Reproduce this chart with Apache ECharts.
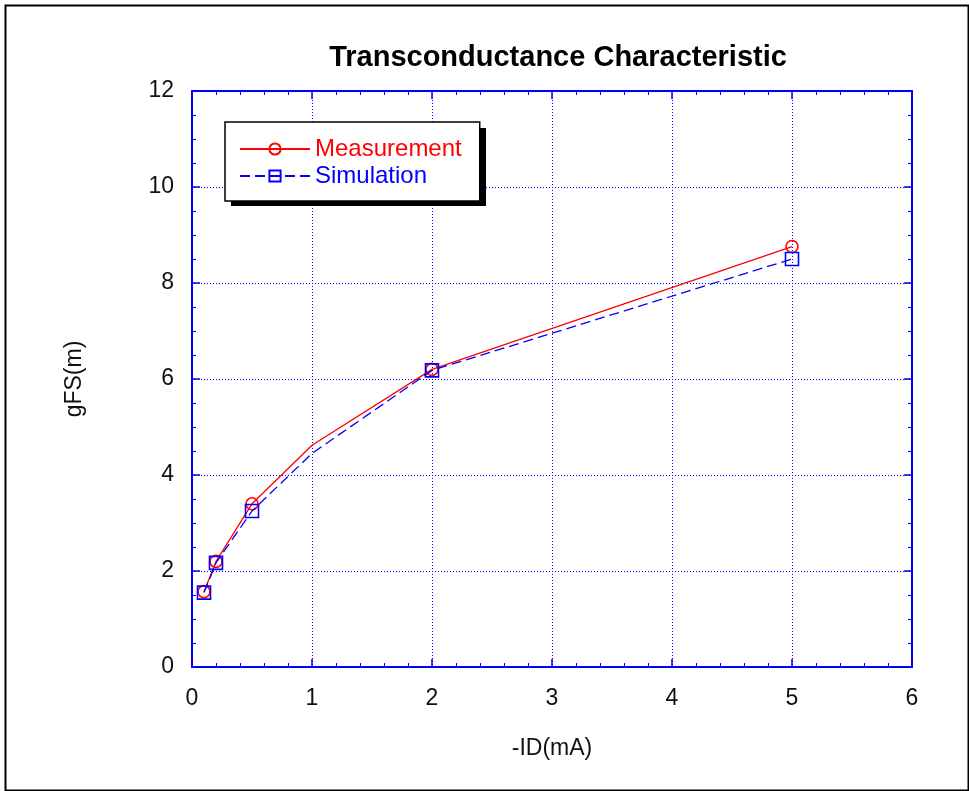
<!DOCTYPE html>
<html>
<head>
<meta charset="utf-8">
<script src="https://cdn.jsdelivr.net/npm/echarts@6/dist/echarts.min.js"></script>
<style>
  html, body { margin: 0; padding: 0; background: #fff; }
  #chart { width: 969px; height: 791px; }
</style>
</head>
<body>
<div id="chart"></div>
<script>
// -ID(mA) drain currents
var currents = [0.1, 0.2, 0.5, 1, 2, 5];
// gFS(m)
var measurement = [1.57, 2.2, 3.4, 4.62, 6.2, 8.76];
var simulation = [1.55, 2.17, 3.25, 4.45, 6.18, 8.5];
// points that carry no marker in the plot
var noMarker = [3];

var xTicks = [0, 1, 2, 3, 4, 5, 6];
var yTicks = [0, 2, 4, 6, 8, 10, 12];

var blue = '#0000ff';
var font = '"Liberation Sans", Arial, sans-serif';

function toPoints(ys) {
    return currents.map(function (x, i) {
        var p = { value: [x, ys[i]] };
        if (noMarker.indexOf(i) >= 0) p.symbol = 'none';
        return p;
    });
}

function axisBase(extra) {
    var a = {
        type: 'value',
        axisLine: { show: true, onZero: false, lineStyle: { color: blue, width: 2 } },
        axisTick: { show: true, inside: true, length: 8, lineStyle: { color: blue, width: 1.5 } },
        splitLine: { show: false },
        axisLabel: { show: false }
    };
    return Object.assign(a, extra);
}

var chart = echarts.init(document.getElementById('chart'));
chart.setOption({
    backgroundColor: '#fff',
    animation: false,
    title: {
        text: 'Transconductance Characteristic',
        left: 553, top: 38, textAlign: 'center',
        textStyle: { fontFamily: font, fontSize: 29, fontWeight: 'bold', color: '#000' }
    },
    graphic: [
        {
            type: 'rect', left: 3, top: 3,
            shape: { width: 963, height: 785 },
            style: { fill: 'none', stroke: '#000', lineWidth: 2 }
        },
        // drop shadow behind the legend box
        {
            type: 'rect', left: 231, top: 128, z: 3,
            shape: { width: 255, height: 78 },
            style: { fill: '#000' }
        }
    ],
    legend: {
        orient: 'vertical',
        left: 225, top: 122, z: 5,
        padding: [15, 18, 13, 14],
        itemWidth: 70, itemHeight: 14, itemGap: 3,
        backgroundColor: '#fff',
        borderColor: '#000', borderWidth: 1.5,
        textStyle: { fontFamily: font, fontSize: 24 },
        data: [
            { name: 'Measurement', textStyle: { color: '#ff0000' } },
            { name: 'Simulation', textStyle: { color: blue } }
        ]
    },
    grid: { left: 192, top: 91, width: 720, height: 576 },
    xAxis: [
        axisBase({
            min: 0, max: 6, interval: 1, position: 'bottom',
            minorTick: { show: true, splitNumber: 5, length: 4, lineStyle: { color: blue, width: 1 } },
            splitLine: { show: true, lineStyle: { color: blue, type: [1, 2], width: 1 } },
            axisLabel: {
                show: true, margin: 20, color: '#111', fontFamily: font, fontSize: 23,
                formatter: function (v) { return xTicks.indexOf(v) >= 0 ? String(v) : ''; }
            },
            name: '-ID(mA)', nameLocation: 'middle', nameGap: 70,
            nameTextStyle: { color: '#111', fontFamily: font, fontSize: 23 }
        }),
        axisBase({
            min: 0, max: 6, interval: 1, position: 'top',
            minorTick: { show: true, splitNumber: 5, length: 4, lineStyle: { color: blue, width: 1 } }
        })
    ],
    yAxis: [
        axisBase({
            min: 0, max: 12, interval: 2, position: 'left',
            minorTick: { show: true, splitNumber: 4, length: 4, lineStyle: { color: blue, width: 1 } },
            splitLine: { show: true, lineStyle: { color: blue, type: [1, 2], width: 1 } },
            axisLabel: {
                show: true, margin: 18, color: '#111', fontFamily: font, fontSize: 23,
                formatter: function (v) { return yTicks.indexOf(v) >= 0 ? String(v) : ''; }
            },
            name: 'gFS(m)', nameLocation: 'middle', nameGap: 106, nameRotate: 90,
            nameTextStyle: { color: '#111', fontFamily: font, fontSize: 23 }
        }),
        axisBase({
            min: 0, max: 12, interval: 2, position: 'right',
            minorTick: { show: true, splitNumber: 4, length: 4, lineStyle: { color: blue, width: 1 } }
        })
    ],
    series: [
        {
            name: 'Measurement', type: 'line',
            xAxisIndex: 0, yAxisIndex: 0,
            data: toPoints(measurement),
            symbol: 'circle', symbolSize: 12,
            lineStyle: { color: '#ff0000', width: 1.3 },
            itemStyle: { color: 'rgba(0,0,0,0)', borderColor: '#ff0000', borderWidth: 1.6 },
            z: 3
        },
        {
            name: 'Simulation', type: 'line',
            xAxisIndex: 0, yAxisIndex: 0,
            data: toPoints(simulation),
            symbol: 'rect', symbolSize: 13,
            lineStyle: { color: blue, width: 1.3, type: [10, 5] },
            itemStyle: { color: 'rgba(0,0,0,0)', borderColor: blue, borderWidth: 1.6 },
            z: 4
        }
    ]
});
</script>
</body>
</html>
